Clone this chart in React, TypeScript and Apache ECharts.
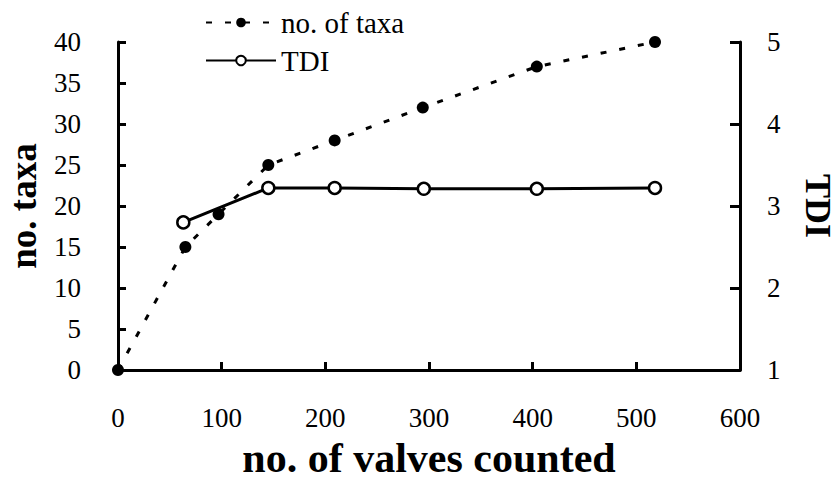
import React, { useEffect, useRef } from "react";
import * as echarts from "echarts";

const taxaX = [0, 65, 97, 145, 209, 294, 404, 518];
const taxaY = [0, 15, 19, 25, 28, 32, 37, 40];
const tdiX = [63, 145, 209, 295, 404, 518];
const tdiY = [2.8, 3.22, 3.22, 3.21, 3.21, 3.22];
const leftTicks = [0, 5, 10, 15, 20, 25, 30, 35, 40];
const rightTicks = [1, 2, 3, 4, 5];
const xTicks = [0, 100, 200, 300, 400, 500, 600];

const serif = "'Liberation Serif', 'Times New Roman', Times, serif";

export default function App() {
  const ref = useRef<HTMLDivElement>(null);
  useEffect(() => {
    const chart = echarts.init(ref.current!, null, { renderer: "svg" });
    const axisLine = { show: true, lineStyle: { color: "#000", width: 3 } };
    const lbl = { fontFamily: serif, fontSize: 27, color: "#000" };
    const title = { fontFamily: serif, fontSize: 37, fontWeight: "bold", color: "#000" };
    chart.setOption({
      animation: false,
      backgroundColor: "#fff",
      textStyle: { fontFamily: serif },
      grid: { left: 118, right: 98, top: 42, bottom: 111, outerBoundsMode: "none", containLabel: false },
      legend: {
        orient: "vertical",
        left: 200,
        top: 3,
        itemWidth: 70,
        itemHeight: 12,
        itemGap: 9,
        textStyle: { fontFamily: serif, fontSize: 29, color: "#000" },
        data: [{ name: "no. of taxa" }, { name: "TDI" }],
      },
      xAxis: {
        type: "value",
        min: xTicks[0],
        max: xTicks[xTicks.length - 1],
        interval: 100,
        axisLine,
        axisTick: { show: true, inside: true, length: 8, lineStyle: { color: "#000", width: 3 } },
        splitLine: { show: false },
        axisLabel: { ...lbl, margin: 34 },
        name: "no. of valves counted",
        nameLocation: "middle",
        nameGap: 67,
        nameTextStyle: { ...title, fontSize: 42 },
      },
      yAxis: [
        {
          type: "value",
          min: leftTicks[0],
          max: leftTicks[leftTicks.length - 1],
          interval: 5,
          axisLine,
          axisTick: { show: true, inside: true, length: 8, lineStyle: { color: "#000", width: 3 } },
          splitLine: { show: false },
          axisLabel: { ...lbl, margin: 37 },
          name: "no. taxa",
          nameLocation: "middle",
          nameGap: 76,
          nameTextStyle: title,
        },
        {
          type: "value",
          position: "right",
          min: rightTicks[0],
          max: rightTicks[rightTicks.length - 1],
          interval: 1,
          axisLine,
          axisTick: { show: true, inside: true, length: 10, lineStyle: { color: "#000", width: 3 } },
          splitLine: { show: false },
          axisLabel: { ...lbl, margin: 27 },
          name: "TDI",
          nameLocation: "middle",
          nameGap: 60,
          nameRotate: -90,
          nameTextStyle: { ...title, fontSize: 36 },
        },
      ],
      series: [
        {
          name: "no. of taxa",
          type: "line",
          yAxisIndex: 0,
          data: taxaX.map((x, i) => [x, taxaY[i]]),
          symbol: "circle",
          symbolSize: 12,
          itemStyle: { color: "#000" },
          lineStyle: { color: "#000", width: 3, type: [6, 13] },
          z: 2,
        },
        {
          name: "TDI",
          type: "line",
          yAxisIndex: 1,
          data: tdiX.map((x, i) => [x, tdiY[i]]),
          symbol: "circle",
          symbolSize: 12,
          itemStyle: { color: "#fff", borderColor: "#000", borderWidth: 2.5 },
          lineStyle: { color: "#000", width: 3 },
          z: 3,
        },
      ],
    });
    return () => chart.dispose();
  }, []);
  return <div ref={ref} style={{ width: 838, height: 481, position: "absolute", left: 0, top: 0 }} />;
}
